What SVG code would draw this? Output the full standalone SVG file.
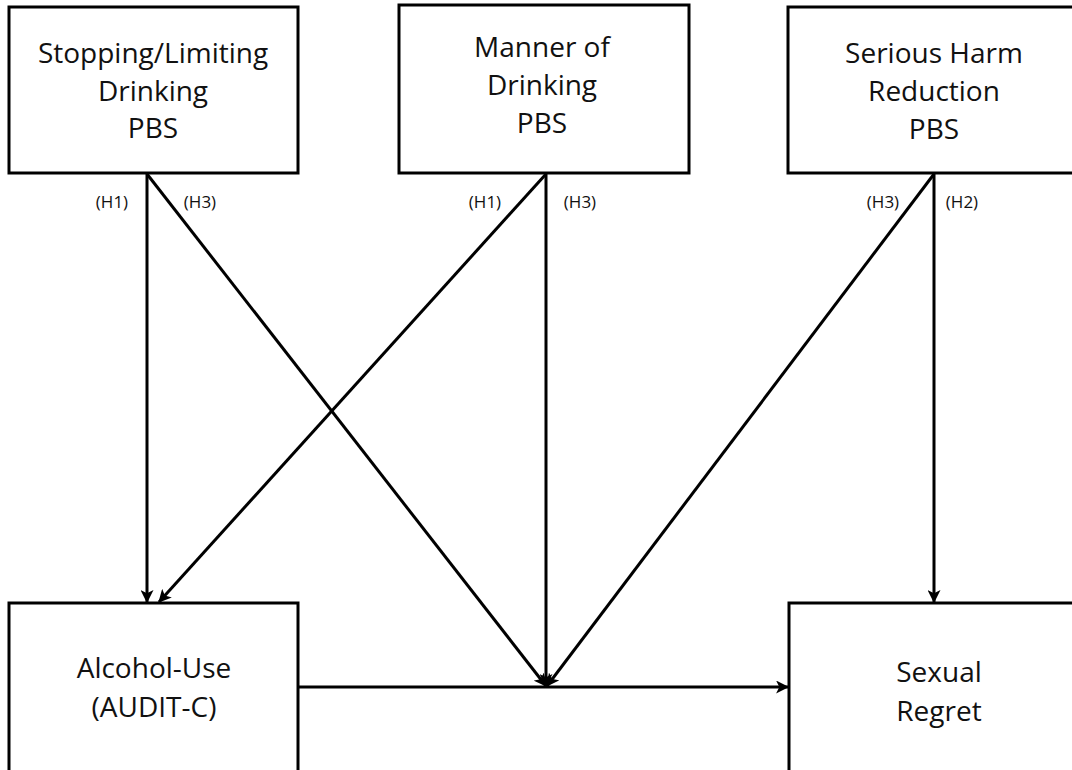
<svg xmlns="http://www.w3.org/2000/svg" width="1072" height="770" viewBox="0 0 1072 770">
<style>
.box{fill:#fff;stroke:#000;stroke-width:3}
.t{font-family:"Open Sans","Liberation Sans",sans-serif;font-size:28px;fill:#111;text-anchor:middle}
.lbl{font-family:"Open Sans","Liberation Sans",sans-serif;font-size:17px;fill:#111;text-anchor:middle}
.c{stroke:#000;stroke-width:3;fill:none}
</style>
<defs>
<marker id="ah" viewBox="0 0 12 12" refX="11" refY="6" markerWidth="13" markerHeight="13" markerUnits="userSpaceOnUse" orient="auto">
<path d="M0,0 L12,6 L0,12 L3,6 Z" fill="#000"/>
</marker>
</defs>
<rect width="1072" height="770" fill="#fff"/>
<g id="connectors">
<line class="c" x1="147" y1="174" x2="147" y2="602" marker-end="url(#ah)"/>
<line class="c" x1="147" y1="174" x2="546" y2="686" marker-end="url(#ah)"/>
<line class="c" x1="546" y1="174" x2="159" y2="602" marker-end="url(#ah)"/>
<line class="c" x1="546" y1="174" x2="546" y2="686" marker-end="url(#ah)"/>
<line class="c" x1="934" y1="174" x2="547" y2="686" marker-end="url(#ah)"/>
<line class="c" x1="934" y1="174" x2="934" y2="602" marker-end="url(#ah)"/>
<line class="c" x1="299" y1="687" x2="788" y2="687" marker-end="url(#ah)"/>
<text class="lbl" x="112" y="208">(H1)</text>
<text class="lbl" x="200" y="208">(H3)</text>
<text class="lbl" x="485" y="208">(H1)</text>
<text class="lbl" x="580" y="208">(H3)</text>
<text class="lbl" x="883" y="208">(H3)</text>
<text class="lbl" x="962" y="208">(H2)</text>
</g>
<g id="n1">
<rect class="box" x="9" y="7" width="289" height="166"/>
<text class="t" x="153" y="63">Stopping/Limiting</text>
<text class="t" x="153" y="101">Drinking</text>
<text class="t" x="153" y="138">PBS</text>
</g>
<g id="n2">
<rect class="box" x="399" y="5" width="290" height="168"/>
<text class="t" x="542" y="57">Manner of</text>
<text class="t" x="542" y="95">Drinking</text>
<text class="t" x="542" y="133">PBS</text>
</g>
<g id="n3">
<rect class="box" x="788" y="7" width="300" height="166"/>
<text class="t" x="934" y="63">Serious Harm</text>
<text class="t" x="934" y="101">Reduction</text>
<text class="t" x="934" y="139">PBS</text>
</g>
<g id="n4">
<rect class="box" x="9" y="603" width="289" height="180"/>
<text class="t" x="154" y="678">Alcohol-Use</text>
<text class="t" x="154" y="717">(AUDIT-C)</text>
</g>
<g id="n5">
<rect class="box" x="789" y="603" width="300" height="180"/>
<text class="t" x="939" y="682">Sexual</text>
<text class="t" x="939" y="721">Regret</text>
</g>
</svg>
